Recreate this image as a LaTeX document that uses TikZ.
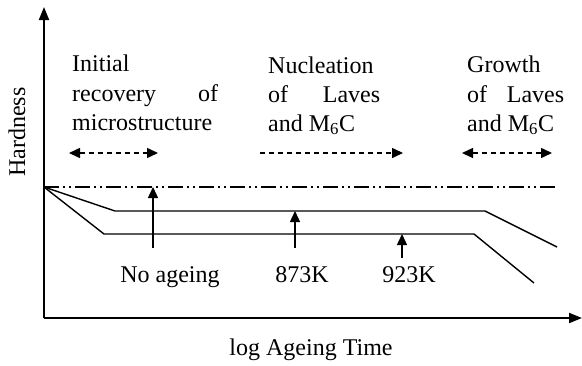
\documentclass[tikz,border=0pt]{standalone}
\usepackage{fontspec}
\setmainfont{Liberation Serif}
\usetikzlibrary{arrows.meta}
\begin{document}
\begin{tikzpicture}[x=1pt,y=-1pt,
  txt/.style={inner sep=0pt, font=\fontsize{24}{30}\selectfont},
  axisline/.style={line width=2pt, -{Triangle[length=13pt,width=10pt]}},
  curve/.style={line width=1.4pt},
  ptr/.style={line width=1.4pt, -{Triangle[length=11pt,width=10pt]}},
  spanline/.style={line width=1.5pt, dash pattern=on 5pt off 4pt},
  refline/.style={line width=2pt, dash pattern=on 15pt off 4pt on 2pt off 4pt on 2pt off 4pt}]
\useasboundingbox (0,0) rectangle (582,365);
% axes
\coordinate (O) at (44,318);
\coordinate (ytop) at (44,7);
\coordinate (xend) at (582,318);
\draw[axisline] (O) -- (ytop);
\draw[axisline] (O) -- (xend);
\node[txt, rotate=90, anchor=base] (ylab) at (25,132) {Hardness};
\node[txt, anchor=base] (xlab) at (311,355) {log Ageing Time};
% curves
\coordinate (s) at (44,187);
\coordinate (r1) at (558,187);
\coordinate (a1) at (115,211);
\coordinate (a2) at (485,211);
\coordinate (a3) at (557,247);
\coordinate (b1) at (104,234);
\coordinate (b2) at (474,234);
\coordinate (b3) at (534,283);
\draw[refline] (s) -- (r1);
\draw[curve, line join=miter] (s) -- (a1) -- (a2) -- (a3);
\draw[curve, line join=miter] (s) -- (b1) -- (b2) -- (b3);
% pointers
\coordinate (p1s) at (153,248);
\coordinate (p1e) at (153,187);
\coordinate (p2s) at (295,248);
\coordinate (p2e) at (295,211);
\coordinate (p3s) at (402,258);
\coordinate (p3e) at (402,234);
\draw[ptr] (p1s) -- (p1e);
\draw[ptr] (p2s) -- (p2e);
\draw[ptr] (p3s) -- (p3e);
\node[txt, anchor=base] (l1) at (170,282) {No ageing};
\node[txt, anchor=base] (l2) at (302,282) {873K};
\node[txt, anchor=base] (l3) at (409,282) {923K};
% stage texts
\node[txt, anchor=base west] (i1) at (72,71) {Initial};
\node[txt, anchor=base west] (i2) at (72,101) {\makebox[146pt][s]{recovery of}};
\node[txt, anchor=base west] (i3) at (72,130) {microstructure};
\node[txt, anchor=base west] (n1) at (268,73) {Nucleation};
\node[txt, anchor=base west] (n2) at (268,102) {\makebox[112pt][s]{of Laves}};
\node[txt, anchor=base west] (n3) at (268,131) {and M\textsubscript{6}C};
\node[txt, anchor=base west] (g1) at (467,72) {Growth};
\node[txt, anchor=base west] (g2) at (467,102) {\makebox[97pt][s]{of Laves}};
\node[txt, anchor=base west] (g3) at (467,131) {and M\textsubscript{6}C};
% stage spans
\coordinate (d1a) at (69,153);
\coordinate (d1b) at (158,153);
\coordinate (d2a) at (260,153);
\coordinate (d2b) at (403,153);
\coordinate (d3a) at (462,153);
\coordinate (d3b) at (552,153);
\draw[spanline, {Triangle[length=11pt,width=10pt]}-{Triangle[length=11pt,width=10pt]}] (d1a) -- (d1b);
\draw[spanline, -{Triangle[length=11pt,width=10pt]}] (d2a) -- (d2b);
\draw[spanline, {Triangle[length=11pt,width=10pt]}-{Triangle[length=11pt,width=10pt]}] (d3a) -- (d3b);
\end{tikzpicture}
\end{document}
